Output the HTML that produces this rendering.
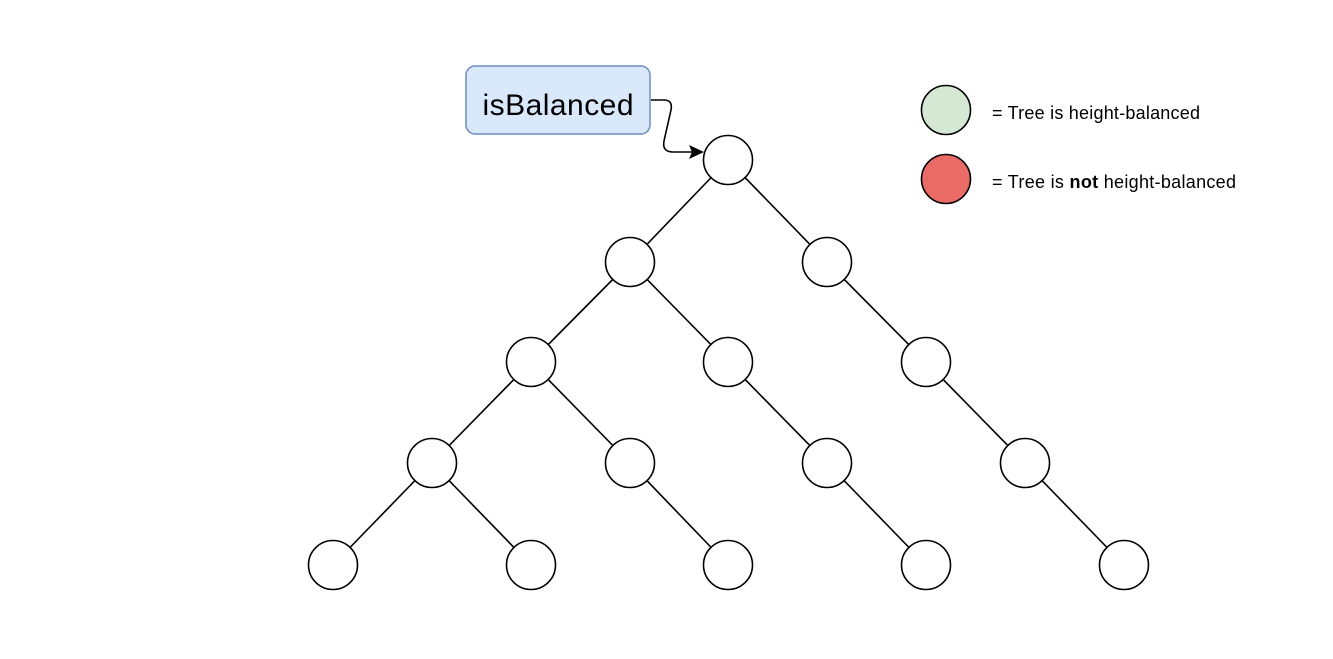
<!DOCTYPE html>
<html><head><style>body{margin:0;background:#fff}</style></head><body>
<svg width="1333" height="659" xmlns="http://www.w3.org/2000/svg" style="display:block">
<g stroke="#000" stroke-width="1.6">
<line x1="728" y1="160" x2="630" y2="262"/><line x1="728" y1="160" x2="827" y2="262"/>
<line x1="630" y1="262" x2="531" y2="362"/><line x1="630" y1="262" x2="728" y2="362"/>
<line x1="827" y1="262" x2="926" y2="362"/>
<line x1="531" y1="362" x2="432" y2="463"/><line x1="531" y1="362" x2="630" y2="463"/>
<line x1="728" y1="362" x2="827" y2="463"/><line x1="926" y1="362" x2="1025" y2="463"/>
<line x1="432" y1="463" x2="333" y2="565"/><line x1="432" y1="463" x2="531" y2="565"/>
<line x1="630" y1="463" x2="728" y2="565"/><line x1="827" y1="463" x2="926" y2="565"/>
<line x1="1025" y1="463" x2="1124" y2="565"/>
</g>
<g fill="#fff" stroke="#000" stroke-width="1.6">
<circle cx="728" cy="160" r="24.5"/>
<circle cx="630" cy="262" r="24.5"/><circle cx="827" cy="262" r="24.5"/>
<circle cx="531" cy="362" r="24.5"/><circle cx="728" cy="362" r="24.5"/><circle cx="926" cy="362" r="24.5"/>
<circle cx="432" cy="463" r="24.5"/><circle cx="630" cy="463" r="24.5"/><circle cx="827" cy="463" r="24.5"/><circle cx="1025" cy="463" r="24.5"/>
<circle cx="333" cy="565" r="24.5"/><circle cx="531" cy="565" r="24.5"/><circle cx="728" cy="565" r="24.5"/><circle cx="926" cy="565" r="24.5"/><circle cx="1124" cy="565" r="24.5"/>
</g>
<rect x="466" y="66" width="184" height="68" rx="9" fill="#dae8fc" stroke="#6c8ebf" stroke-width="1.5"/>
<text x="558" y="115" font-family="Liberation Sans, sans-serif" font-size="30" text-anchor="middle" textLength="151">isBalanced</text>
<path d="M651 100 H664 Q673 100 671 110 L664 141 Q662 152 673 152 H692" fill="none" stroke="#000" stroke-width="1.6"/>
<path d="M704 152 L689 145 L692 152 L689 159 Z" fill="#000"/>
<circle cx="946" cy="110" r="24.5" fill="#d5e8d4" stroke="#000" stroke-width="1.6"/>
<circle cx="946" cy="179" r="24.5" fill="#ea6b66" stroke="#000" stroke-width="1.6"/>
<text x="992" y="119" font-family="Liberation Sans, sans-serif" font-size="18" textLength="208">= Tree is height-balanced</text>
<text x="992" y="188" font-family="Liberation Sans, sans-serif" font-size="18" textLength="244">= Tree is <tspan font-weight="bold">not</tspan>  height-balanced</text>
</svg>
</body></html>
